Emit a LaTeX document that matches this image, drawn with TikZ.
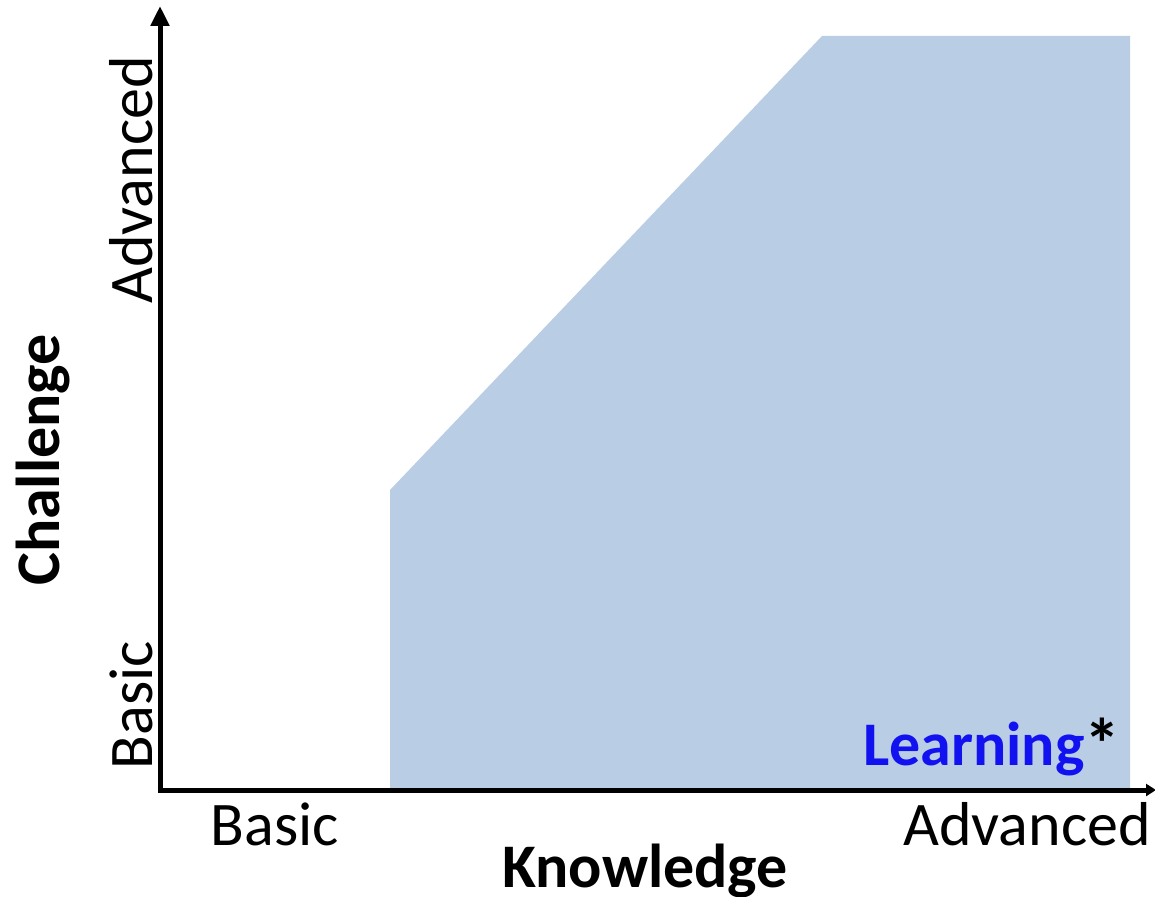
\documentclass[tikz,border=0pt]{standalone}
\usepackage{fontspec}
\setmainfont{Carlito}
\usepackage{tikz}
\usetikzlibrary{arrows.meta}
\definecolor{zone}{RGB}{185,205,229}
\definecolor{learnblue}{RGB}{18,18,240}
\definecolor{edge}{RGB}{128,104,176}
\newcommand{\AxisFont}{\fontsize{62}{70}\selectfont}

\begin{document}
\begin{tikzpicture}[x=1pt, y=-1pt,
  lab/.style={anchor=base, font=\AxisFont},
  axis/.style={line width=5pt, -{Triangle[length=20pt, width=18pt]}}]
\useasboundingbox (0,0) rectangle (1155,896);

\fill[zone] (390,790) -- (390,490) -- (822,36) -- (1130,36) -- (1130,790) -- cycle;

\coordinate (O) at (160,790);
\coordinate (Ytop) at (160,6);
\coordinate (Xend) at (1156,790);
\draw[edge, line width=1.2pt] (162.5,215) -- (162.5,788);
\draw[axis] (O) -- (Ytop);
\draw[line width=5pt, -{Triangle[length=10pt, width=12pt]}] (157.5,790) -- (Xend);

\draw(152,180) node[lab, rotate=90] (yadv) {Advanced};
\draw(152,705) node[lab, rotate=90] (ybas) {Basic};
\draw(59,460) node[lab, rotate=90, font=\AxisFont\bfseries] (ylab) {Challenge};
\draw(275,845) node[lab] (xbas) {Basic};
\draw(1027,845) node[lab] (xadv) {Advanced};
\draw(645,887) node[lab, font=\AxisFont\bfseries] (xlab) {Knowledge};
\draw(1124,765) node[lab, anchor=base east, font=\AxisFont\bfseries] (zone)
  {\textcolor{learnblue}{Learning}\raisebox{-4pt}{\fontsize{72}{72}\selectfont*}};

\end{tikzpicture}
\end{document}
